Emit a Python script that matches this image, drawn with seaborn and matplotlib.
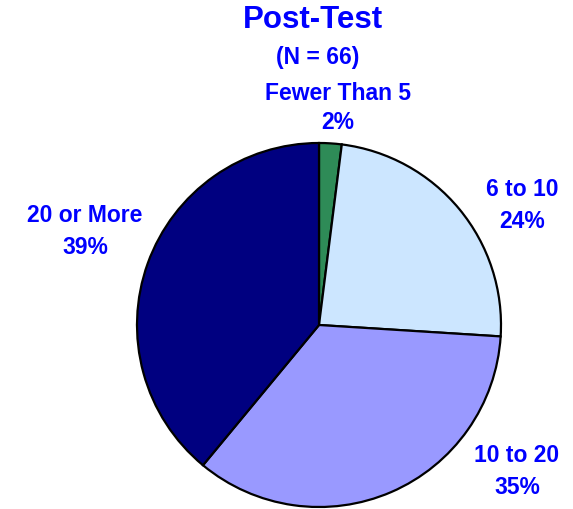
import matplotlib
matplotlib.use("Agg")
import matplotlib.pyplot as plt
import seaborn as sns

categories = ["Fewer Than 5", "6 to 10", "10 to 20", "20 or More"]
percents = [2, 24, 35, 39]
colors = ["#2E8B57", "#CCE6FF", "#9999FF", "#000080"]
title = "Post-Test"
subtitle = "(N = 66)"

sns.set_theme(style="white")
plt.rcParams['font.family'] = ['Liberation Sans', 'DejaVu Sans']

W, H = 573, 509
fig = plt.figure(figsize=(W / 100, H / 100), dpi=100)
ax = fig.add_axes([0, 0, 1, 1])
ax.set_xlim(0, W)
ax.set_ylim(H, 0)
ax.set_aspect("equal")
ax.axis("off")

wedges, _ = ax.pie(percents, colors=colors, startangle=90, counterclock=False,
                   center=(319, 325), radius=182,
                   wedgeprops=dict(edgecolor="black", linewidth=1.6))
# y axis is inverted: mirror the wedges so they still run clockwise from the top
for w in wedges:
    t1, t2 = w.theta1, w.theta2
    w.set_theta1(-t2)
    w.set_theta2(-t1)
ax.set_ylim(H, 0)
ax.set_xlim(0, W)

blue = "#0000FF"
ax.text(313, 20, title, ha="center", va="center", fontsize=22.5, fontweight="bold", color=blue)
ax.text(318, 57, subtitle, ha="center", va="center", fontsize=16.5, fontweight="bold", color=blue)

label_pos = [(338, 93, 122), (522, 189, 221), (517, 456, 487), (85, 216, 247)]
for cat, p, (x, y1, y2) in zip(categories, percents, label_pos):
    ax.text(x, y1, cat, ha="center", va="center", fontsize=16.5, fontweight="bold", color=blue)
    ax.text(x, y2, f"{p}%", ha="center", va="center", fontsize=16.5, fontweight="bold", color=blue)

fig.savefig("out.png", dpi=100)
